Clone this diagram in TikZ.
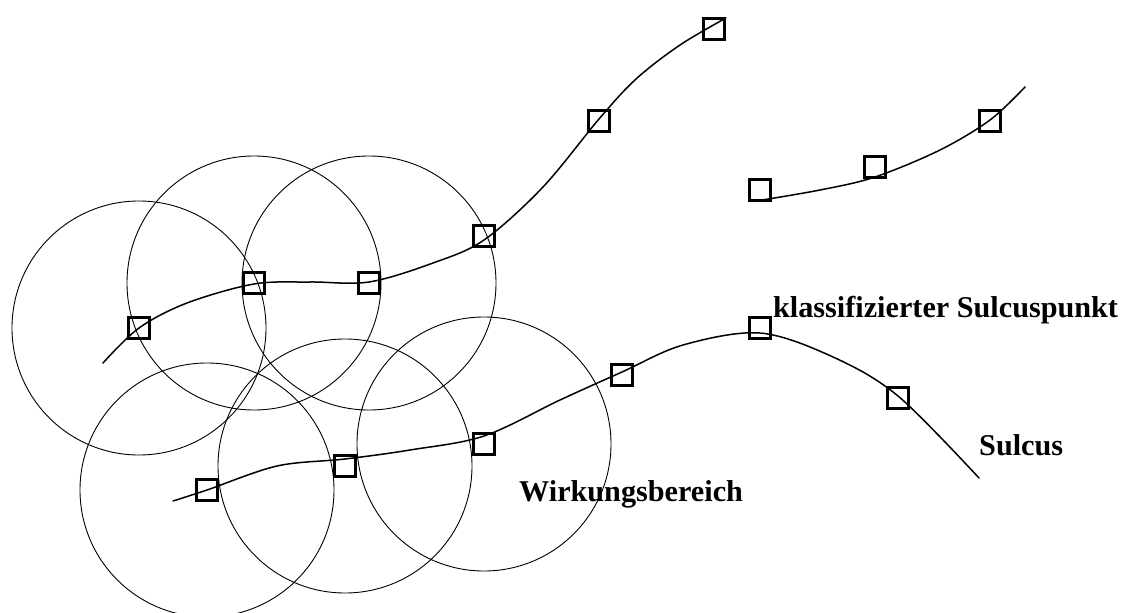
\documentclass[tikz,border=0pt]{standalone}
\usepackage{fontspec}
\setmainfont{Liberation Serif}
\begin{document}
\begin{tikzpicture}[x=1pt,y=-1pt,
  reach/.style={draw,line width=0.9pt},
  sulcusline/.style={line width=1.5pt,line cap=round},
  spot/.style={draw,rectangle,line width=3pt,inner sep=0pt,minimum size=21pt},
  caption/.style={anchor=base west,inner sep=0pt,font=\fontsize{30.2}{34}\selectfont\bfseries}]
\useasboundingbox (0,0) rectangle (1125,613);

% classified sulcus points
\node[spot] (p1) at (139,328) {};
\node[spot] (p2) at (254,283) {};
\node[spot] (p3) at (369,283) {};
\node[spot] (p4) at (484,236) {};
\node[spot] (p5) at (599,121) {};
\node[spot] (p6) at (714,29) {};
\node[spot] (q1) at (207,490) {};
\node[spot] (q2) at (345,466) {};
\node[spot] (q3) at (484,444) {};
\node[spot] (q4) at (622,375) {};
\node[spot] (q5) at (760,328) {};
\node[spot] (q6) at (898,398) {};
\node[spot] (r1) at (760,190) {};
\node[spot] (r2) at (875,167) {};
\node[spot] (r3) at (990,121) {};

% areas of influence
\foreach \c in {p1,p2,p3,q1,q2,q3}
  \draw[reach] (\c.center) circle[radius=127];

% sulci
\draw[sulcusline] plot[smooth,tension=0.55] coordinates {
  (103,363) (139,328) (187,303) (254,284) (310,282) (369,282) (433,263)
  (484,240) (543,187) (599,119) (636,79) (680,45) (726,18)};
\draw[sulcusline] plot[smooth,tension=0.55] coordinates {
  (173,501) (207,490) (277,466) (345,459) (410,450) (484,436) (560,400)
  (622,372) (683,345) (760,333) (833,357) (898,396) (979,478)};
\draw[sulcusline] plot[smooth,tension=0.55] coordinates {
  (756,201) (820,190) (875,177) (940,150) (990,120) (1025,87)};

% labels
\node[caption] (lpunkt) at (773,317) {klassifizierter Sulcuspunkt};
\node[caption] (lsulcus) at (979,455) {Sulcus};
\node[caption] (lbereich) at (519,501) {Wirkungsbereich};
\end{tikzpicture}
\end{document}
